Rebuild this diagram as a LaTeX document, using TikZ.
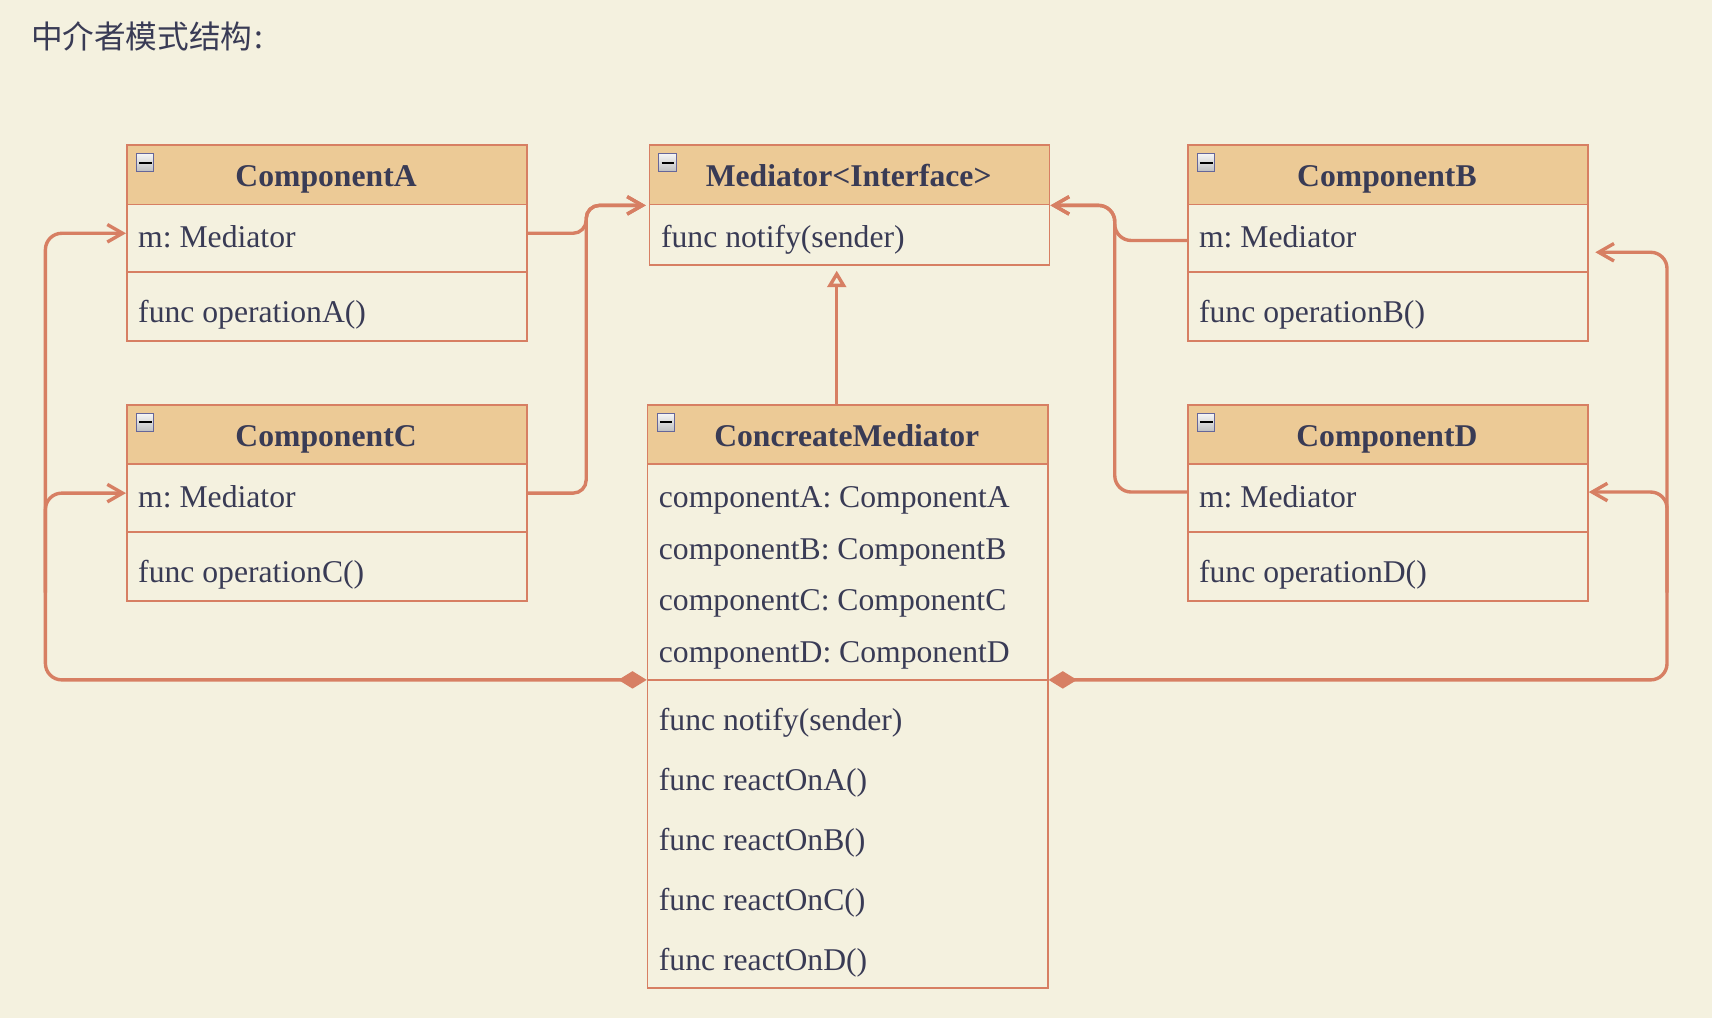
\documentclass[tikz,border=0pt]{standalone}
\usepackage{fontspec}
\setmainfont{Liberation Serif}
\newfontfamily\cjkfont{Noto Sans CJK SC}
\usetikzlibrary{arrows.meta,calc}
\frenchspacing

\definecolor{bgcol}{HTML}{F4F1DF}
\definecolor{linecol}{HTML}{D77F63}
\definecolor{headcol}{HTML}{ECCA96}
\definecolor{txtcol}{HTML}{393B55}

\tikzset{
  classbox/.style={draw=linecol, line width=1.6pt, fill=bgcol, minimum width=366.5pt, inner sep=0pt, anchor=north west},
  headbox/.style={classbox, fill=headcol, minimum height=54.5pt},
  iconbox/.style={draw=gray!80!blue, line width=1pt, top color=gray!8, bottom color=gray!50, minimum size=16pt, inner sep=0pt, anchor=north west},
  headtext/.style={font=\fontsize{29}{34}\selectfont\bfseries, text=txtcol, anchor=base, inner sep=0pt},
  rowtext/.style={font=\fontsize{29}{34}\selectfont, text=txtcol, anchor=base west, inner sep=0pt},
  sepline/.style={draw=linecol, line width=1.6pt},
  assoc/.style={draw=linecol, line width=3.1pt, rounded corners=15pt},
  barb/.style={-{Straight Barb[length=14pt,width=16pt]}},
}

\begin{document}
\begin{tikzpicture}[x=1pt,y=-1pt]
\useasboundingbox (0,0) rectangle (1568,932.4);
\fill[bgcol] (0,0) rectangle (1568,932.4);
\node[font=\cjkfont\fontsize{29}{34}\selectfont, text=txtcol, anchor=base west, inner sep=0pt] (title) at (28.2,44.2) {中介者模式结构\kern2pt:};

\foreach \n/\x/\y in {A/115.4/132, B/1087/132, C/115.4/370, D/1087/370}{
  \node[classbox, minimum height=179.4pt] (box\n) at (\x,\y) {};
  \node[headbox] (head\n) at (\x,\y) {};
  \node[iconbox] (icon\n) at (\x+9,\y+8.4) {};
  \draw[line width=1.8pt] ([xshift=3pt]icon\n.west) -- ([xshift=-2.5pt]icon\n.east);
  \node[headtext] (name\n) at (\x+183.25,\y+39) {Component\n};
  \draw[sepline] ([yshift=-117pt]box\n.north west) -- ([yshift=-117pt]box\n.north east);
  \node[rowtext] (m\n) at (\x+11,\y+94.5) {m: Mediator};
  \node[rowtext] (op\n) at (\x+11,\y+163.5) {func operation\n()};
}

\node[classbox, minimum height=109.8pt] (boxM) at (594,132) {};
\node[headbox] (headM) at (594,132) {};
\node[iconbox] (iconM) at (603,140.4) {};
\draw[line width=1.8pt] ([xshift=3pt]iconM.west) -- ([xshift=-2.5pt]iconM.east);
\node[headtext] (nameM) at (777.25,171) {Mediator<Interface>};
\node[rowtext] (notifyM) at (605.3,226.5) {func notify(sender)};

\node[classbox, minimum height=534.2pt] (boxCM) at (592.3,370) {};
\node[headbox] (headCM) at (592.3,370) {};
\node[iconbox] (iconCM) at (601.3,378.4) {};
\draw[line width=1.8pt] ([xshift=3pt]iconCM.west) -- ([xshift=-2.5pt]iconCM.east);
\node[headtext] (nameCM) at (775.5,409) {ConcreateMediator};
\foreach \c [count=\i] in {A,B,C,D}
  \node[rowtext] (attr\c) at (603.3,417+47.5*\i) {component\c: Component\c};
\coordinate (sepW) at ([yshift=-252.7pt]boxCM.north west);
\coordinate (sepE) at ([yshift=-252.7pt]boxCM.north east);
\draw[sepline] (sepW) -- (sepE);
\node[rowtext] (notifyCM) at (603.3,669) {func notify(sender)};
\foreach \c [count=\i] in {A,B,C,D}
  \node[rowtext] (react\c) at (603.3,669+55*\i) {func reactOn\c()};

\draw[assoc, barb, rounded corners=12pt, shorten >=2.5pt] ($(boxA.east |- mA)+(0,-3)$) -- ++(53.4,0) |- (headM.south west);
\draw[assoc, barb, rounded corners=12pt, shorten >=2.5pt] ($(boxC.east |- mC)+(0,-3)$) -- ++(53.4,0) |- (headM.south west);
\draw[assoc, barb] ($(boxB.west |- mB)+(0,3.6)$) -- ++(-66,0) |- (headM.south east);
\draw[assoc, barb] ($(boxD.west |- mD)+(0,-4)$) -- ++(-66,0) |- (headM.south east);

\coordinate (genS) at ($(boxCM.north)+(-10,0)$);
\draw[draw=linecol, line width=3.1pt, -{Triangle[length=15pt,width=17pt,fill=bgcol]}, shorten >=4.5pt] (genS) -- (genS |- boxM.south);

\draw[assoc, {Diamond[length=26pt,width=16pt]}-{Straight Barb[length=14pt,width=16pt]}] (sepW) -- ++(-550.7,0) coordinate (legL) |- ($(boxA.west |- mA)+(0,-3)$);
\draw[assoc, barb] ($(legL)+(0,-80)$) |- ($(boxC.west |- mC)+(0,-3)$);
\draw[assoc, {Diamond[length=26pt,width=16pt]}-{Straight Barb[length=14pt,width=16pt]}, shorten >=6pt] (sepE) -- ++(566.4,0) coordinate (legR) |- ($(boxB.east |- mB)+(0,14.4)$);
\draw[assoc, barb] ($(legR)+(0,-80)$) |- ($(boxD.east |- mD)+(0,-4)$);
\end{tikzpicture}
\end{document}
